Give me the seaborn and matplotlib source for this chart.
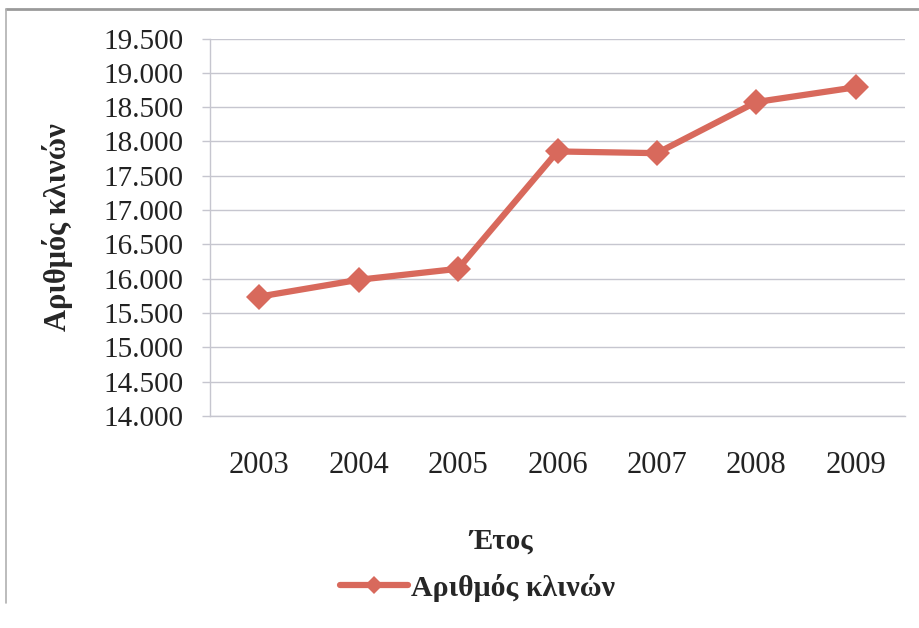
import matplotlib
matplotlib.use("Agg")
import matplotlib.pyplot as plt
import matplotlib.ticker as mticker
from matplotlib.lines import Line2D
import seaborn as sns
import pandas as pd

years = ["2003", "2004", "2005", "2006", "2007", "2008", "2009"]
beds = [15740, 15985, 16145, 17855, 17830, 18575, 18790]
series_name = "Αριθμός κλινών"
x_title = "Έτος"
y_title = "Αριθμός κλινών"

sns.set_theme(style="white")
plt.rcParams["font.family"] = ["Liberation Serif", "DejaVu Serif"]

df = pd.DataFrame({"year": years, "beds": beds})
color = "#d8695c"
grid_c = "#c6c6cf"

fig = plt.figure(figsize=(9.2, 6.28), dpi=100)
ax = fig.add_axes([0.228, 0.3376, 0.756, 0.601])

sns.lineplot(data=df, x="year", y="beds", ax=ax, color=color, lw=4.5,
             marker="D", markersize=13, markeredgewidth=0, sort=False)

ax.set_xlim(-0.5, len(years) - 0.5)
ax.set_ylim(14000, 19500)
ax.yaxis.set_major_locator(mticker.MultipleLocator(500))
ax.yaxis.set_major_formatter(mticker.FuncFormatter(lambda v, p: f"{int(v):,}".replace(",", ".")))
ax.grid(axis="y", color=grid_c, lw=1.0)
ax.set_axisbelow(True)
for s in ["top", "right"]:
    ax.spines[s].set_visible(False)
ax.spines["left"].set_color(grid_c)
ax.spines["bottom"].set_color(grid_c)
ax.spines["left"].set_linewidth(1.0)
ax.spines["bottom"].set_linewidth(1.0)
ax.tick_params(axis="y", length=6, width=1, color=grid_c, labelsize=21, pad=13, left=True, labelcolor="#222222")
ax.tick_params(axis="x", length=0, labelsize=22, pad=25, labelcolor="#222222")

ax.set_xlabel("")
ax.set_ylabel(y_title, fontsize=22, fontweight="bold")
ax.yaxis.set_label_coords(-0.196, 0.5)

fig.text(0.545, 0.138, x_title, ha="center", va="center", fontsize=21, fontweight="bold")

handle = Line2D([], [], color=color, lw=4.5, marker="D", markersize=9, markeredgewidth=0)
fig.legend([handle], [series_name], loc="center", bbox_to_anchor=(0.519, 0.064),
           frameon=False, prop={"weight": "bold", "size": 21.5},
           handlelength=2.3, handletextpad=0.1)

# frame of the original chart box
fig.add_artist(Line2D([0.006, 1.0], [0.985, 0.985], transform=fig.transFigure, color="#9a9a9a", lw=2))
fig.add_artist(Line2D([0.007, 0.007], [0.985, 0.04], transform=fig.transFigure, color="#b0b0b0", lw=1.2))

fig.savefig("out.png", dpi=100)
